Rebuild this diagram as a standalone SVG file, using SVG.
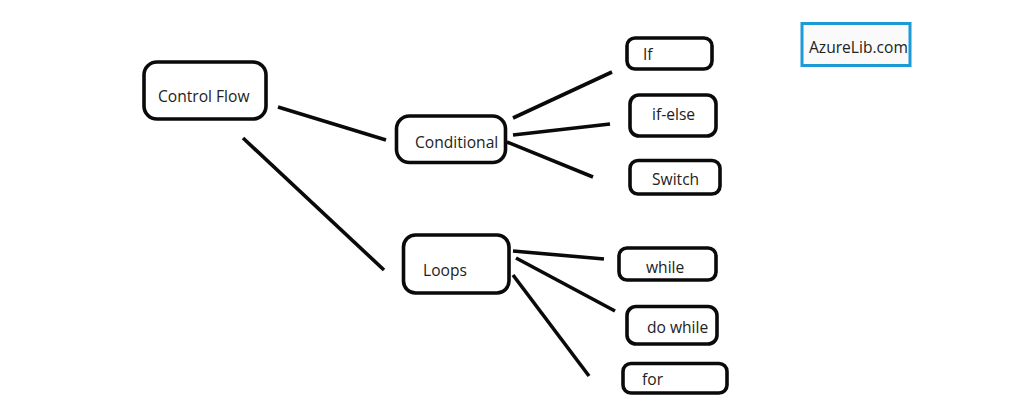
<svg xmlns="http://www.w3.org/2000/svg" width="1024" height="406" viewBox="0 0 1024 406">
<style>
.n{fill:#fff;stroke:#0a0a0a;stroke-width:3.6}
.c line{stroke:#0a0a0a;stroke-width:3.6;stroke-linecap:butt}
text{font-family:"Open Sans","Noto Sans","Liberation Sans",sans-serif;font-size:15.600px;fill:#222}
</style>
<rect width="1024" height="406" fill="#fff"/>
<g id="connectors" class="c">
<line x1="278" y1="107" x2="386" y2="140"/>
<line x1="243" y1="138" x2="384" y2="270"/>
<line x1="513" y1="118" x2="612" y2="72"/>
<line x1="513" y1="135" x2="610" y2="124"/>
<line x1="507" y1="142" x2="593" y2="177"/>
<line x1="513" y1="251" x2="604" y2="259"/>
<line x1="516" y1="258" x2="615" y2="311"/>
<line x1="513" y1="275" x2="589" y2="376"/>
</g>
<g id="control-flow"><rect class="n" x="144" y="62" width="122" height="57" rx="13"/><text x="158" y="102">Control Flow</text></g>
<g id="conditional"><rect class="n" x="396.500" y="116" width="109" height="46.500" rx="13"/><text x="415" y="148">Conditional</text></g>
<g id="loops"><rect class="n" x="403.500" y="235" width="105.500" height="58" rx="12"/><text x="423" y="276">Loops</text></g>
<g id="if"><rect class="n" x="627" y="38" width="85" height="31" rx="8"/><text x="643" y="60">If</text></g>
<g id="if-else"><rect class="n" x="630" y="95" width="86" height="41" rx="9"/><text x="652" y="120">if-else</text></g>
<g id="switch"><rect class="n" x="630" y="160.500" width="90" height="33.500" rx="8"/><text x="652" y="185">Switch</text></g>
<g id="while"><rect class="n" x="619" y="248" width="97" height="32" rx="8"/><text x="646" y="273">while</text></g>
<g id="do-while"><rect class="n" x="627" y="306.500" width="90" height="37.500" rx="9"/><text x="647" y="333">do while</text></g>
<g id="for"><rect class="n" x="623" y="363.500" width="104" height="29.500" rx="8"/><text x="642" y="385">for</text></g>
<g id="azurelib"><rect x="802" y="23.500" width="108" height="42" fill="#fafafa" stroke="#1c9ad6" stroke-width="3"/><text x="809" y="53">AzureLib.com</text></g>
</svg>
